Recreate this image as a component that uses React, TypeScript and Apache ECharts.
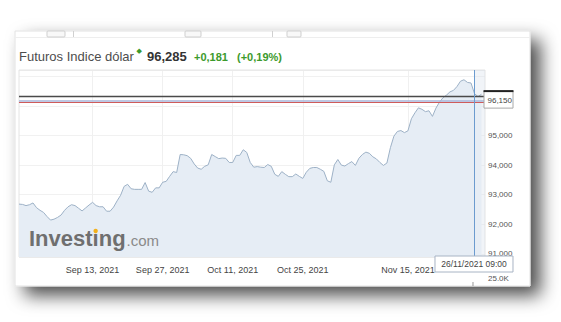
import React, { useEffect, useRef } from "react";
import * as echarts from "echarts";

// ---- data ----
const firstDay = "2021-08-27";
const categoryCount = 134; // half-day slots (trading days only)
const prices = [
  92.68, 92.67, 92.63, 92.66, 92.72, 92.56, 92.47, 92.4, 92.26, 92.14,
  92.17, 92.23, 92.31, 92.47, 92.59, 92.66, 92.63, 92.54, 92.45, 92.55,
  92.65, 92.74, 92.63, 92.59, 92.59, 92.44, 92.44, 92.58, 92.79, 92.98,
  93.28, 93.35, 93.2, 93.18, 93.18, 93.18, 93.41, 93.12, 93.08, 93.23,
  93.23, 93.42, 93.45, 93.62, 93.78, 93.75, 94.36, 94.35, 94.32, 94.23,
  94.04, 93.9, 93.86, 93.96, 94.01, 94.36, 94.29, 94.22, 94.24, 94.23,
  94.09, 94.09, 94.33, 94.33, 94.52, 94.43, 94.09, 93.93, 93.95, 93.93,
  93.92, 94.02, 93.96, 93.69, 93.62, 93.78, 93.69, 93.61, 93.61, 93.7,
  93.62, 93.55, 93.76, 93.89, 93.92, 93.92, 93.86, 93.79, 93.47, 93.42,
  94.01, 94.19, 94.0, 93.97, 94.05, 94.12, 93.99, 94.23, 94.36, 94.44,
  94.4, 94.28, 94.21, 94.09, 93.99, 94.07, 94.59, 94.98, 95.14, 95.17,
  95.1, 95.16, 95.57, 95.77, 95.94, 95.89, 95.81, 95.84, 95.65, 95.93,
  96.13, 96.28, 96.37, 96.48, 96.53, 96.66, 96.84, 96.89, 96.8, 96.78,
  96.42, 96.32, 96.4,
];
const tickDates = ["2021-09-13", "2021-09-27", "2021-10-11", "2021-10-25", "2021-11-15"];
const tickLabels = ["Sep 13, 2021", "Sep 27, 2021", "Oct 11, 2021", "Oct 25, 2021", "Nov 15, 2021"];
const yLabelValues = [91, 92, 93, 94, 95];
const yMin = 90.89;
const yMax = 97.22;
const levelLines = [96.34, 96.18, 96.13];
const lastPriceValue = 96.15;
const lastPriceLabel = "96,150";
const crosshairCategory = "2021-11-26 12:00";
const crosshairLabel = "26/11/2021 09:00";
const volumeLabel = "25.0K";
const titleName = "Futuros Indice dólar";
const titlePrice = "96,285";
const titleChange = "+0,181";
const titleChangePct = "(+0,19%)";

function buildCategories(): string[] {
  const out: string[] = [];
  const d = new Date(firstDay + "T00:00:00Z");
  while (out.length < categoryCount + 1) {
    const wd = d.getUTCDay();
    if (wd !== 0 && wd !== 6) {
      const s = d.toISOString().slice(0, 10);
      out.push(s + " 00:00", s + " 12:00");
    }
    d.setUTCDate(d.getUTCDate() + 1);
  }
  return out.slice(1, categoryCount + 1);
}

const FONT = "'Liberation Sans', Arial, sans-serif";
const GREEN = "#3c9a2c";

function measure(text: string, font: string): number {
  const c = document.createElement("canvas").getContext("2d");
  if (!c) return text.length * 8;
  c.font = font;
  return c.measureText(text).width;
}

export default function App() {
  const ref = useRef<HTMLDivElement>(null);
  useEffect(() => {
    const chart = echarts.init(ref.current!, null, { renderer: "svg" });
    const categories = buildCategories();
    const isTick = (_i: number, v: string) =>
      v.endsWith("00:00") && tickDates.indexOf(v.slice(0, 10)) >= 0;

    chart.setOption({
      animation: false,
      backgroundColor: "#ffffff",
      grid: {
        left: 19,
        right: 76,
        top: 70,
        bottom: 65,
        show: true,
        borderColor: "#e4e4e4",
        borderWidth: 1,
        backgroundColor: "transparent",
        z: 1,
      },
      xAxis: {
        type: "category",
        data: categories,
        boundaryGap: false,
        axisLine: { show: false },
        axisTick: { show: false },
        axisLabel: {
          interval: isTick,
          margin: 8,
          fontFamily: FONT,
          fontSize: 9,
          color: "#444",
          formatter: (v: string) => {
            const i = tickDates.indexOf(v.slice(0, 10));
            return i >= 0 ? tickLabels[i] : "";
          },
        },
        splitLine: { show: true, interval: isTick, lineStyle: { color: "#f0f0f0", width: 1 } },
      },
      yAxis: {
        type: "value",
        position: "right",
        min: yMin,
        max: yMax,
        axisLine: { show: false },
        axisTick: { show: false },
        axisLabel: {
          margin: 3,
          fontFamily: FONT,
          fontSize: 8,
          color: "#555",
          showMinLabel: false,
          showMaxLabel: false,
          formatter: (v: number) => {
            const r = Math.round(v);
            return Math.abs(v - r) < 1e-6 && yLabelValues.indexOf(r) >= 0
              ? r.toFixed(3).replace(".", ",")
              : "";
          },
        },
        splitLine: { show: true, lineStyle: { color: "#f1f1f1", width: 1 } },
      },
      series: [
        {
          type: "line",
          data: prices,
          symbol: "none",
          silent: true,
          z: 3,
          lineStyle: { color: "#9db1c6", width: 1 },
          areaStyle: { color: "#e6edf5", opacity: 1 },
          markArea: {
            silent: true,
            itemStyle: { color: "rgba(214,224,236,0.35)" },
            data: [[{ xAxis: crosshairCategory }, { xAxis: categories[categories.length - 1] }]],
          },
          markLine: {
            silent: true,
            symbol: ["none", "none"],
            label: { show: false },
            data: [
              { yAxis: levelLines[0], lineStyle: { color: "#4a4a4a", width: 1.3, type: "solid" } },
              { yAxis: levelLines[1], lineStyle: { color: "#a9b6da", width: 1.5, type: "solid" } },
              { yAxis: levelLines[2], lineStyle: { color: "#cf5b5b", width: 1, type: "solid" } },
              { xAxis: crosshairCategory, lineStyle: { color: "#6b9bcf", width: 1, type: "solid" } },
            ],
          },
        },
      ],
    });

    const py = chart.convertToPixel({ yAxisIndex: 0 }, lastPriceValue) as number;
    const cx = chart.convertToPixel({ xAxisIndex: 0 }, crosshairCategory) as number;
    const rightX = 485;

    const logoFont = `bold 22px ${FONT}`;
    const logoX = 29;
    const logoBase = 246;
    const logoMid = logoBase - 0.3465 * 22;
    const wInvest = measure("Invest", logoFont);
    const wDotless = measure("ı", logoFont);
    const wAll = measure("Investıng", logoFont);

    chart.setOption({
      graphic: [
        {
          type: "rect",
          z: -10,
          shape: { x: 15, y: 31, width: 515, height: 255 },
          style: {
            fill: "#ffffff",
            stroke: "#e2e2e2",
            lineWidth: 1,
            shadowBlur: 18,
            shadowOffsetX: 10,
            shadowOffsetY: 9,
            shadowColor: "rgba(0,0,0,0.7)",
          },
        },
        { type: "line", z: -9, shape: { x1: 15, y1: 37.5, x2: 530, y2: 37.5 }, style: { stroke: "#eeeeee", lineWidth: 1 } },
        { type: "rect", z: -9, shape: { x: 47, y: 31, width: 18, height: 6, r: 1 }, style: { fill: "#f8f8f8", stroke: "#cfcfcf" } },
        { type: "line", z: -9, shape: { x1: 73.5, y1: 31, x2: 73.5, y2: 37 }, style: { stroke: "#d0d0d0" } },
        { type: "rect", z: -9, shape: { x: 185, y: 31, width: 16, height: 6, r: 1 }, style: { fill: "#f8f8f8", stroke: "#cfcfcf" } },
        { type: "line", z: -9, shape: { x1: 272.5, y1: 31, x2: 272.5, y2: 37 }, style: { stroke: "#d0d0d0" } },
        { type: "rect", z: -9, shape: { x: 287, y: 31, width: 14, height: 6, r: 1 }, style: { fill: "#f8f8f8", stroke: "#cfcfcf" } },

        // title
        { type: "text", z: 10, x: 19, y: 56.5, style: { text: titleName, font: `13px ${FONT}`, fill: "#4d4d4d", verticalAlign: "middle" } },
        { type: "text", z: 10, x: 136.5, y: 51, style: { text: "◆", font: `7px 'DejaVu Sans', sans-serif`, fill: GREEN, verticalAlign: "middle" } },
        { type: "text", z: 10, x: 147, y: 56.5, style: { text: titlePrice, font: `bold 13px ${FONT}`, fill: "#333333", verticalAlign: "middle" } },
        { type: "text", z: 10, x: 194, y: 57, style: { text: titleChange, font: `bold 11px ${FONT}`, fill: GREEN, verticalAlign: "middle" } },
        { type: "text", z: 10, x: 237, y: 57, style: { text: titleChangePct, font: `bold 11px ${FONT}`, fill: GREEN, verticalAlign: "middle" } },

        // watermark
        { type: "text", z: 10, x: logoX, y: logoMid, style: { text: "Investıng", font: logoFont, fill: "#6f6f6f", verticalAlign: "middle" } },
        { type: "circle", z: 11, shape: { cx: logoX + wInvest + wDotless / 2, cy: logoBase - 15, r: 2.2 }, style: { fill: "#f3b11b" } },
        { type: "text", z: 10, x: logoX + wAll + 1, y: logoBase - 0.3465 * 15, style: { text: ".com", font: `15px ${FONT}`, fill: "#8a8a8a", verticalAlign: "middle" } },

        // last price box
        { type: "rect", z: 20, shape: { x: rightX - 1, y: py - 10.5, width: 29, height: 17 }, style: { fill: "#ffffff", stroke: "#a8a8a8", lineWidth: 1 } },
        { type: "line", z: 21, shape: { x1: rightX - 1.5, y1: py - 10.5, x2: rightX + 28.5, y2: py - 10.5 }, style: { stroke: "#222222", lineWidth: 2 } },
        { type: "text", z: 22, x: rightX + 2.5, y: py - 1.5, style: { text: lastPriceLabel, font: `8px ${FONT}`, fill: "#444", verticalAlign: "middle" } },

        // crosshair date box
        { type: "rect", z: 20, shape: { x: cx - 39.5, y: 256, width: 78, height: 16 }, style: { fill: "#ffffff", stroke: "#a8b4c4", lineWidth: 1 } },
        { type: "text", z: 22, x: cx - 0.5, y: 264, style: { text: crosshairLabel, font: `8.5px ${FONT}`, fill: "#444", align: "center", verticalAlign: "middle" } },

        // volume pane
        { type: "text", z: 10, x: rightX + 3, y: 278.5, style: { text: volumeLabel, font: `8px ${FONT}`, fill: "#555", verticalAlign: "middle" } },
        { type: "line", z: 10, shape: { x1: cx - 1.5, y1: 282, x2: cx - 1.5, y2: 286 }, style: { stroke: "#999", lineWidth: 1 } },
      ],
    });

    return () => chart.dispose();
  }, []);
  return <div ref={ref} style={{ position: "absolute", left: 0, top: 0, width: 561, height: 322 }} />;
}
